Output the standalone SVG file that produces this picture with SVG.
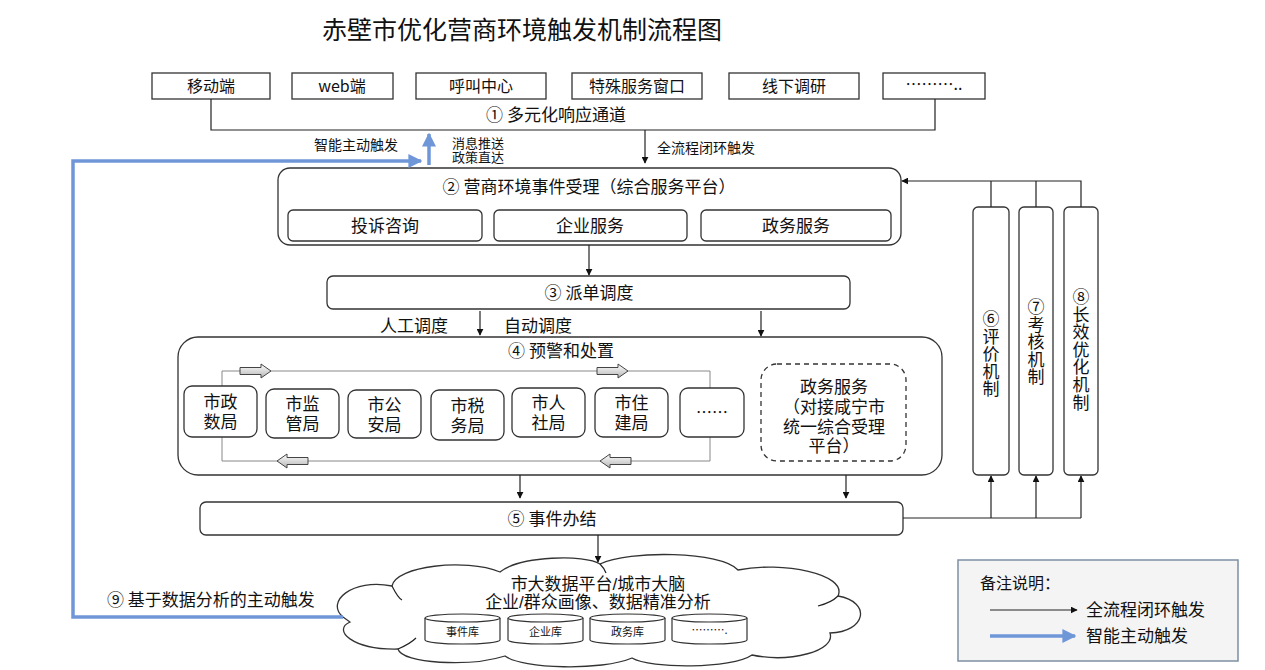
<svg xmlns="http://www.w3.org/2000/svg" width="1265" height="670" viewBox="0 0 1265 670">
<defs>
<style>
text{font-family:"Noto Sans CJK SC","Noto Sans",sans-serif;fill:#111;}
.ml{font-family:"Liberation Sans","Noto Sans CJK SC",sans-serif;}
.t16{font-size:16px;text-anchor:middle;}
.t17{font-size:17px;text-anchor:middle;}
.t14{font-size:14px;}
.vt{font-size:17px;writing-mode:tb;letter-spacing:0.6px;}
.box{fill:#fff;stroke:#333;stroke-width:1.3;}
.ln{fill:none;stroke:#222;stroke-width:1.2;}
.thin{fill:none;stroke:#888;stroke-width:1;}
.blue{fill:none;stroke:#6f97d8;stroke-width:3.5;}
.db{fill:#fff;stroke:#333;stroke-width:1.2;}
</style>
<marker id="ah" viewBox="0 0 10 10" refX="9" refY="5" markerWidth="7" markerHeight="7" orient="auto" markerUnits="userSpaceOnUse"><path d="M0,0 L10,5 L0,10 Z" fill="#111"/></marker>
<marker id="bh" viewBox="0 0 10 10" refX="9" refY="5" markerWidth="4" markerHeight="4" orient="auto"><path d="M0,0 L10,5 L0,10 Z" fill="#6f97d8"/></marker>
<linearGradient id="hg" x1="0" y1="0" x2="0" y2="1"><stop offset="0" stop-color="#fff"/><stop offset="1" stop-color="#b5b5b5"/></linearGradient>
<path id="harrow" d="M0,-3.5 H21 V-7 L31,0 L21,7 V3.5 H0 Z" fill="url(#hg)" stroke="#444" stroke-width="1"/>
</defs>
<rect width="1265" height="670" fill="#fff"/>

<text x="522" y="39" style="font-size:25px;text-anchor:middle;">赤壁市优化营商环境触发机制流程图</text>

<g id="channels">
<rect class="box" x="152" y="73" width="118" height="26"/><text class="t16" x="211" y="92">移动端</text>
<rect class="box" x="292" y="73" width="101" height="26"/><text class="t16" x="342" y="92">web端</text>
<rect class="box" x="416" y="73" width="130" height="26"/><text class="t16" x="481" y="92">呼叫中心</text>
<rect class="box" x="572" y="73" width="130" height="26"/><text class="t16" x="637" y="92">特殊服务窗口</text>
<rect class="box" x="729" y="73" width="130" height="26"/><text class="t16" x="794" y="92">线下调研</text>
<rect class="box" x="883" y="73" width="102" height="26"/><text class="t16" x="934" y="90">………..</text>
<text class="t17" x="556" y="121">①  多元化响应通道</text>
</g>

<g id="accept">
<rect class="box" x="278" y="168" width="623" height="77" rx="12"/>
<text class="t17" x="589" y="193">②  营商环境事件受理（综合服务平台）</text>
<rect class="box" x="288" y="210" width="194" height="31" rx="5"/><text class="t17" x="385" y="232">投诉咨询</text>
<rect class="box" x="494" y="210" width="193" height="31" rx="5"/><text class="t17" x="590" y="232">企业服务</text>
<rect class="box" x="701" y="210" width="190" height="31" rx="5"/><text class="t17" x="796" y="232">政务服务</text>
</g>

<g id="dispatch">
<rect class="box" x="327" y="276" width="523" height="33" rx="6"/>
<text class="t17" x="589" y="299">③  派单调度</text>
</g>

<g id="warning">
<rect class="box" x="178" y="337" width="764" height="138" rx="20"/>
<text class="t17" x="561" y="357">④  预警和处置</text>
<path class="thin" d="M222,386 V371 H710 V388 M222,437 V461 H710 V437"/>
<use href="#harrow" x="240" y="371"/>
<use href="#harrow" x="597" y="371"/>
<use href="#harrow" transform="translate(308,461) scale(-1,1)"/>
<use href="#harrow" transform="translate(631,461) scale(-1,1)"/>
<g id="dept1"><rect class="box" x="184" y="386" width="73" height="51" rx="8"/><text class="t17 ml" x="220.5" y="408">市政<tspan x="220.5" dy="20">数局</tspan></text></g>
<g id="dept2"><rect class="box" x="266" y="389" width="73" height="49" rx="8"/><text class="t17 ml" x="302.5" y="410">市监<tspan x="302.5" dy="20">管局</tspan></text></g>
<g id="dept3"><rect class="box" x="348" y="390" width="73" height="48" rx="8"/><text class="t17 ml" x="384.5" y="411">市公<tspan x="384.5" dy="20">安局</tspan></text></g>
<g id="dept4"><rect class="box" x="431" y="390" width="73" height="50" rx="8"/><text class="t17 ml" x="467.5" y="412">市税<tspan x="467.5" dy="20">务局</tspan></text></g>
<g id="dept5"><rect class="box" x="512" y="388" width="73" height="49" rx="8"/><text class="t17 ml" x="548.5" y="409">市人<tspan x="548.5" dy="20">社局</tspan></text></g>
<g id="dept6"><rect class="box" x="595" y="388" width="73" height="49" rx="8"/><text class="t17 ml" x="631.5" y="409">市住<tspan x="631.5" dy="20">建局</tspan></text></g>
<g id="dept7"><rect class="box" x="680" y="388" width="64" height="49" rx="8"/><text class="t16" x="712" y="418">……</text></g>
<g id="govservice"><rect x="761" y="364" width="145" height="97" rx="16" fill="#fff" stroke="#333" stroke-width="1.3" stroke-dasharray="5,4"/>
<text class="t17 ml" x="834" y="393">政务服务<tspan x="834" dy="20">（对接咸宁市</tspan><tspan x="834" dy="20">统一综合受理</tspan><tspan x="834" dy="19">平台）</tspan></text></g>
</g>

<g id="finish">
<rect class="box" x="200" y="502" width="703" height="33" rx="6"/>
<text class="t17" x="552" y="525">⑤  事件办结</text>
</g>

<g id="mech6"><rect class="box" x="973" y="207" width="36" height="268" rx="5"/>
<text class="vt" x="991" y="310">⑥评价机制</text></g>
<g id="mech7"><rect class="box" x="1019" y="207" width="34" height="268" rx="5"/>
<text class="vt" x="1036" y="298">⑦考核机制</text></g>
<g id="mech8"><rect class="box" x="1064" y="207" width="34" height="268" rx="5"/>
<text class="vt" x="1081" y="288">⑧长效优化机制</text></g>

<g id="bigdata">
<path d="M343,617 C325,602 352,578 392,586 C396,566 465,558 500,572 C520,556 585,554 600,564 C628,550 722,551 738,570 C782,561 848,574 838,596 C872,602 866,632 830,633 C836,651 790,663 752,655 C732,669 650,669 632,658 C602,671 522,669 505,656 C470,667 402,664 398,649 C352,650 332,630 350,622 Z" fill="#fff" stroke="#333" stroke-width="1.3"/>
<path d="M392,586 C395,592 398,598 402,600 M600,564 C603,567 605,570 606,573 M838,596 C834,600 826,604 818,606 M398,649 C405,646 412,642 416,638" class="ln" stroke="#333"/>
<text class="t17 ml" x="598" y="590">市大数据平台/城市大脑<tspan x="598" dy="18">企业/群众画像、数据精准分析</tspan></text>
<g id="db1"><path class="db" d="M425,618 V640 A37.5,4 0 0 0 500,640 V618"/><ellipse class="db" cx="462.5" cy="618" rx="37.5" ry="4"/><text x="462.5" y="636" style="font-size:11px;text-anchor:middle;">事件库</text></g>
<g id="db2"><path class="db" d="M508,618 V640 A37.5,4 0 0 0 583,640 V618"/><ellipse class="db" cx="545.5" cy="618" rx="37.5" ry="4"/><text x="545.5" y="636" style="font-size:11px;text-anchor:middle;">企业库</text></g>
<g id="db3"><path class="db" d="M590,618 V640 A37.5,4 0 0 0 665,640 V618"/><ellipse class="db" cx="627.5" cy="618" rx="37.5" ry="4"/><text x="627.5" y="636" style="font-size:11px;text-anchor:middle;">政务库</text></g>
<g id="db4"><path class="db" d="M672,618 V640 A37.5,4 0 0 0 747,640 V618"/><ellipse class="db" cx="709.5" cy="618" rx="37.5" ry="4"/><text x="709.5" y="634" style="font-size:11px;text-anchor:middle;">……….</text></g>
</g>

<g id="connectors">
<path class="ln" d="M211,99 V130 H935 V99"/>
<path class="ln" d="M645,130 V163" marker-end="url(#ah)"/>
<path class="ln" d="M589,245 V275" marker-end="url(#ah)"/>
<path class="ln" d="M480,311 V335" marker-end="url(#ah)"/>
<path class="ln" d="M761,311 V336" marker-end="url(#ah)"/>
<path class="ln" d="M520,475 V498" marker-end="url(#ah)"/>
<path class="ln" d="M846,475 V498" marker-end="url(#ah)"/>
<path class="ln" d="M598,535 V562" marker-end="url(#ah)"/>
<path class="ln" d="M903,518 H1081"/>
<path class="ln" d="M991,518 V476" marker-end="url(#ah)"/>
<path class="ln" d="M1036,518 V476" marker-end="url(#ah)"/>
<path class="ln" d="M1081,518 V476" marker-end="url(#ah)"/>
<path class="ln" d="M991,207 V181 M1036,207 V181 M1081,207 V181 H902" marker-end="url(#ah)"/>
<path class="blue" d="M343,617 H73 V161 H421" marker-end="url(#bh)"/>
<path class="blue" d="M429,165 V134" marker-end="url(#bh)"/>
</g>

<g id="labels">
<text class="t14" x="398" y="150" text-anchor="end">智能主动触发</text>
<text class="ml" x="452" y="148" style="font-size:13px;">消息推送<tspan x="452" dy="14">政策直达</tspan></text>
<text class="t14" x="657" y="153">全流程闭环触发</text>
<text x="380" y="332" style="font-size:17px;">人工调度</text>
<text x="504" y="332" style="font-size:17px;">自动调度</text>
<text x="107" y="606" style="font-size:17px;">⑨  基于数据分析的主动触发</text>
</g>

<g id="legend">
<rect x="958" y="560" width="280" height="101" fill="#f4f4f4" stroke="#7d8ea3" stroke-width="1.5"/>
<text x="980" y="589" style="font-size:16px;">备注说明：</text>
<path class="ln" d="M990,610 H1077" marker-end="url(#ah)"/>
<text x="1086" y="616" style="font-size:17px;">全流程闭环触发</text>
<path class="blue" d="M990,636 H1075" marker-end="url(#bh)"/>
<text x="1086" y="642" style="font-size:17px;">智能主动触发</text>
</g>
</svg>
